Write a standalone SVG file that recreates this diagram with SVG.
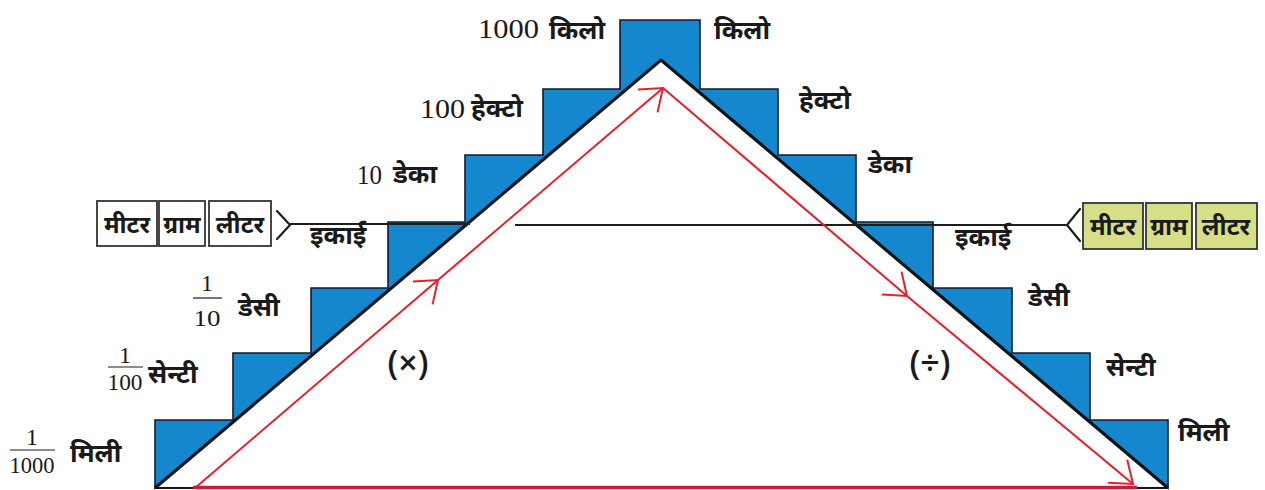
<svg xmlns="http://www.w3.org/2000/svg" width="1265" height="490" viewBox="0 0 1265 490">
<style>
.dev{font-family:"Noto Sans Devanagari","Lohit Devanagari","Noto Sans","FreeSans",sans-serif;font-weight:bold;font-size:26px;fill:#1a1a1a}
.box .dev{font-size:24px}
.num{font-family:"Liberation Serif","Times New Roman",serif;font-size:28px;fill:#1a1a1a}
.frac{font-family:"Liberation Serif","Times New Roman",serif;font-size:24px;fill:#1a1a1a}
.op{font-family:"Open Sans","Liberation Sans",Arial,sans-serif;font-weight:600;font-size:34px;fill:#1a1a1a}
.bar{stroke:#1a1a1a;stroke-width:1.2}
.red{stroke:#e4202c;stroke-width:2;fill:none}
.ub{stroke:#1e1e1e;stroke-width:2.2;fill:none}
.wbox{fill:#fff;stroke:#333;stroke-width:1.8}
.gbox{fill:#d6df86;stroke:#333;stroke-width:1.8}
</style>
<defs>
<marker id="chev" viewBox="-22 -16 24 32" markerWidth="24" markerHeight="32" refX="0" refY="0" orient="auto" markerUnits="userSpaceOnUse">
<path d="M-20,-15 L0,0 L-20,15" fill="none" stroke="#e4202c" stroke-width="2"/>
</marker>
</defs>
<rect width="1265" height="490" fill="#fff"/>

<g id="staircase">
<polygon points="155,488 155,420 233,420 233,353 311,353 311,288 388,288 388,222 465,222 465,155 543,155 543,89 620,89 620,20 700,20 700,89 778,89 778,155 856,155 856,222 933,222 933,288 1012,288 1012,353 1090,353 1090,420 1168,420 1168,488 661,60" fill="#1587cf" stroke="#141a2a" stroke-width="1.6" stroke-linejoin="miter"/>
<path d="M155,488 L661,60 L1168,488" fill="none" stroke="#141414" stroke-width="3.2" stroke-linejoin="miter"/>
<line x1="155" y1="488" x2="1168" y2="488" stroke="#141414" stroke-width="2"/>
</g>

<g id="connectors">
<line class="ub" x1="290" y1="224" x2="470" y2="224"/>
<line class="ub" x1="515" y1="225" x2="1067" y2="225"/>
<path class="ub" d="M277,211 L290,225 L277,239" stroke-width="3" stroke-linejoin="round" stroke-linecap="round"/>
<path class="ub" d="M1080,209 L1067,225 L1080,241" stroke-width="3" stroke-linejoin="round" stroke-linecap="round"/>
<path class="red" d="M195,488 L438,280" marker-end="url(#chev)"/>
<path class="red" d="M438,280 L663,88" marker-end="url(#chev)"/>
<path class="red" d="M663,88 L907,296" marker-end="url(#chev)"/>
<path class="red" d="M907,296 L1133,484" marker-end="url(#chev)"/>
<line x1="193" y1="487.5" x2="1137" y2="487.5" stroke="#c81e34" stroke-width="3.5"/>
</g>

<g id="box-left" class="box">
<rect class="wbox" x="97" y="201" width="60" height="45"/>
<rect class="wbox" x="159" y="201" width="46" height="45"/>
<rect class="wbox" x="209" y="201" width="62" height="45"/>
<text class="dev" x="127" y="233" text-anchor="middle">मीटर</text>
<text class="dev" x="182" y="233" text-anchor="middle">ग्राम</text>
<text class="dev" x="240" y="233" text-anchor="middle">लीटर</text>
</g>

<g id="box-right" class="box">
<rect class="gbox" x="1083" y="203" width="60" height="46"/>
<rect class="gbox" x="1146" y="203" width="46" height="46"/>
<rect class="gbox" x="1196" y="203" width="61" height="46"/>
<text class="dev" x="1113" y="235" text-anchor="middle">मीटर</text>
<text class="dev" x="1169" y="235" text-anchor="middle">ग्राम</text>
<text class="dev" x="1226" y="235" text-anchor="middle">लीटर</text>
</g>

<g id="labels-left">
<text class="num" x="478" y="38" textLength="61" lengthAdjust="spacingAndGlyphs">1000</text>
<text class="dev" x="549" y="39">किलो</text>
<text class="num" x="420" y="118" textLength="45" lengthAdjust="spacingAndGlyphs">100</text>
<text class="dev" x="471" y="117">हेक्टो</text>
<text class="num" x="357" y="184" textLength="25" lengthAdjust="spacingAndGlyphs">10</text>
<text class="dev" x="393" y="183">डेका</text>
<text class="dev" x="310" y="244">इकाई</text>
<text class="frac" x="207" y="291" text-anchor="middle">1</text>
<line class="bar" x1="193" y1="298" x2="222" y2="298"/>
<text class="frac" x="207" y="326" text-anchor="middle" textLength="27" lengthAdjust="spacingAndGlyphs">10</text>
<text class="dev" x="238" y="316">डेसी</text>
<text class="frac" x="125" y="363" text-anchor="middle">1</text>
<line class="bar" x1="108" y1="367" x2="143" y2="367"/>
<text class="frac" x="125" y="390" text-anchor="middle" textLength="35" lengthAdjust="spacingAndGlyphs">100</text>
<text class="dev" x="148" y="383">सेन्टी</text>
<text class="frac" x="32" y="445" text-anchor="middle">1</text>
<line class="bar" x1="10" y1="450" x2="55" y2="450"/>
<text class="frac" x="32" y="473" text-anchor="middle" textLength="45" lengthAdjust="spacingAndGlyphs">1000</text>
<text class="dev" x="70" y="462">मिली</text>
</g>

<g id="labels-right">
<text class="dev" x="714" y="39">किलो</text>
<text class="dev" x="799" y="109">हेक्टो</text>
<text class="dev" x="868" y="173">डेका</text>
<text class="dev" x="955" y="246">इकाई</text>
<text class="dev" x="1028" y="306">डेसी</text>
<text class="dev" x="1106" y="376">सेन्टी</text>
<text class="dev" x="1178" y="441">मिली</text>
</g>

<g id="operators">
<text class="op" x="408" y="375" text-anchor="middle">(×)</text>
<text class="op" x="930" y="375" text-anchor="middle">(÷)</text>
</g>
</svg>
